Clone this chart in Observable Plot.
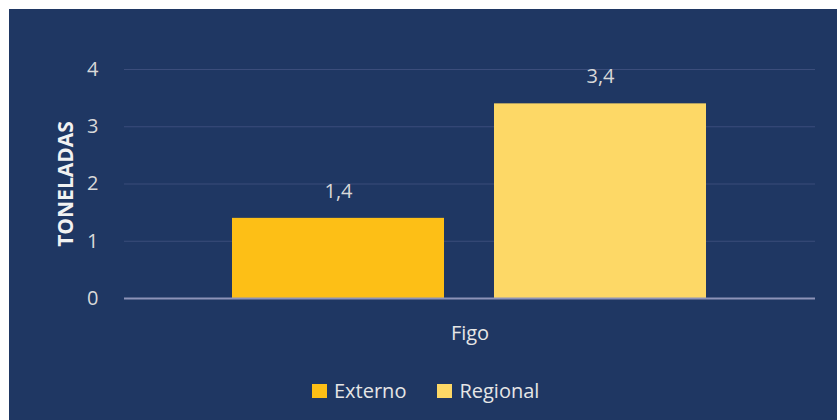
<!DOCTYPE html>
<html>
<head>
<meta charset="utf-8">
<script src="https://cdn.jsdelivr.net/npm/d3@7"></script>
<script src="https://cdn.jsdelivr.net/npm/@observablehq/plot@0.6"></script>
<style>
  html, body { margin: 0; padding: 0; background: #ffffff; }
  #wrap { position: absolute; left: 9px; top: 9px; width: 828px; height: 411px; background: #1f3763; overflow: hidden; }
  #chart { position: absolute; left: 0; top: 0; }
  #legend { position: absolute; left: 303px; top: 365px; }
  .lg-swatch { margin-right: 31px !important; }
  .lg-swatch > svg { margin-right: 7px !important; }
</style>
</head>
<body>
<div id="wrap"><div id="chart"></div><div id="legend"></div></div>
<script>
const categories = ["Figo"];
const series = ["Externo", "Regional"];
const values = [1.4, 3.4];
const yTicks = [0, 1, 2, 3, 4];
const colors = ["#fdbf16", "#fdd866"];
const yLabel = "TONELADAS";

const data = series.map((s, i) => ({
  cat: categories[0],
  series: s,
  value: values[i],
  label: String(values[i]).replace(".", ",")
}));

const font = "'Open Sans', sans-serif";

const chart = Plot.plot({
  width: 828,
  height: 355,
  marginLeft: 115,
  marginRight: 22,
  marginTop: 60,
  marginBottom: 66,
  style: { background: "transparent", fontFamily: font, color: "#d9d9d9", overflow: "visible" },
  fx: { domain: categories, padding: 0, label: null },
  x: { domain: series, paddingInner: 0.19, paddingOuter: 0.409, axis: null },
  y: { domain: [0, 4], label: null },
  color: { domain: series, range: colors },
  marks: [
    Plot.ruleY(yTicks.filter(t => t > 0), { stroke: "#3b4d7b", strokeWidth: 1 }),
    Plot.barY(data, { fx: "cat", x: "series", y: "value", fill: "series" }),
    Plot.ruleY([0], { stroke: "#8d93b8", strokeWidth: 2 }),
    Plot.text(data, { fx: "cat", x: "series", y: "value", text: "label", dy: -27, fill: "#d9d9d9", fontSize: 20 }),
    Plot.axisY({ ticks: yTicks, tickSize: 0, tickPadding: 26, fontSize: 20, label: null, tickFormat: d => String(d), color: "#d9d9d9" }),
    Plot.axisY({ ticks: [], tickSize: 0, label: yLabel, labelAnchor: "center", labelArrow: "none", labelOffset: 66, fontSize: 21, fontWeight: "bold", color: "#f2f2f2" }),
    Plot.axisFx({ anchor: "bottom", tickSize: 0, tickPadding: 27, fontSize: 20, label: null, color: "#e6e6e6" })
  ]
});
document.getElementById("chart").appendChild(chart);

const legend = Plot.legend({
  color: { domain: series, range: colors },
  swatchWidth: 15,
  swatchHeight: 14,
  className: "lg",
  style: { fontFamily: font, fontSize: "20px", color: "#e6e6e6", background: "transparent" }
});
document.getElementById("legend").appendChild(legend);
</script>
</body>
</html>
